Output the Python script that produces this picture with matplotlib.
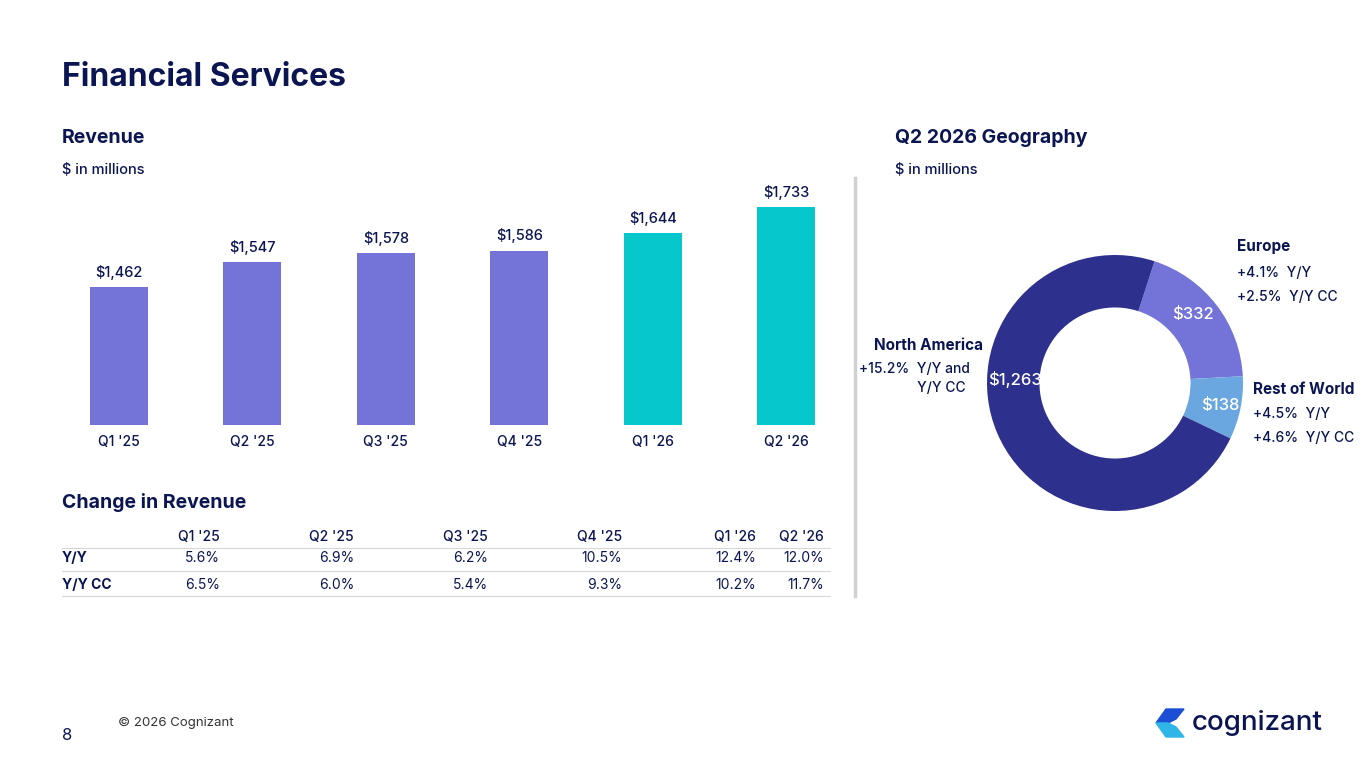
import matplotlib
matplotlib.use("Agg")
import matplotlib.pyplot as plt
import numpy as np
from matplotlib.patches import Polygon

quarters = ["Q1 '25", "Q2 '25", "Q3 '25", "Q4 '25", "Q1 '26", "Q2 '26"]
revenue = [1462, 1547, 1578, 1586, 1644, 1733]
yy = ["5.6%", "6.9%", "6.2%", "10.5%", "12.4%", "12.0%"]
yycc = ["6.5%", "6.0%", "5.4%", "9.3%", "10.2%", "11.7%"]
geo_labels = ["Europe", "Rest of World", "North America"]
geo_values = [332, 138, 1263]

W, H = 1365, 768
NAVY = "#0b1551"
plt.rcParams['font.family'] = ['Inter', 'DejaVu Sans']
fig = plt.figure(figsize=(W/100, H/100), dpi=100)

def P(x, y):
    return (x / W, 1 - y / H)

def txt(x, y, s, size=11, weight="normal", ha="left", va="center", color=NAVY):
    fig.text(*P(x, y), s, fontsize=size, fontweight=weight, ha=ha, va=va, color=color)

txt(62, 77, "Financial Services", 23, "bold")
txt(62, 138, "Revenue", 14, "bold")
txt(62, 170, "$ in millions", 10.5, "medium")
txt(895, 138, "Q2 2026 Geography", 14, "bold")
txt(895, 170, "$ in millions", 10.5, "medium")
txt(62, 502, "Change in Revenue", 14, "bold")

# bars
l, r, t, b = 52, 853, 180, 425
ax = fig.add_axes([l/W, 1-b/H, (r-l)/W, (b-t)/H])
cols = ["#7373d8"]*4 + ["#06c7cc"]*2
x = range(len(revenue))
ax.bar(x, revenue, width=0.435, color=cols)
ax.set_xlim(-0.5, 5.5)
ax.set_ylim(995, 1825)
ax.axis("off")
for i, v in enumerate(revenue):
    ax.text(i, v + 25, f"${v:,}", ha="center", va="bottom", fontsize=10.5, fontweight="medium", color=NAVY)
    ax.text(i, 960, quarters[i], ha="center", va="top", fontsize=10, fontweight="medium", color=NAVY)

# table
rights = [220, 354, 488, 622, 756, 824]
for i, q in enumerate(quarters):
    txt(rights[i], 537, q, 10, "medium", ha="right")
    txt(rights[i], 558, yy[i], 10, ha="right")
    txt(rights[i], 585, yycc[i], 10, ha="right")
txt(62, 558, "Y/Y", 10, "bold")
txt(62, 585, "Y/Y CC", 10, "bold")
for yl in [548, 571, 596]:
    fig.add_artist(plt.Line2D([62/W, 830/W], [1-yl/H]*2, color="#d6d6d6", lw=0.8))

# divider
fig.add_artist(plt.Line2D([855/W]*2, [1-178/H, 1-596/H], color="#d0d0d0", lw=2.5))

# donut
cx, cy, R = 1115, 383, 128
pax = fig.add_axes([(cx-R)/W, 1-(cy+R)/H, 2*R/W, 2*R/H])
gcols = ["#7373d8", "#6aa6e0", "#2e308e"]
pax.pie(geo_values, colors=gcols, startangle=72, counterclock=False, radius=1,
        wedgeprops=dict(width=0.41, linewidth=0))
pax.set_xlim(-1, 1); pax.set_ylim(-1, 1)
pax.set_aspect("equal")
for v, ang, rr in zip(geo_values, [41, -12, 178], [0.81, 0.84, 0.78]):
    a = np.radians(ang)
    pax.text(rr*np.cos(a), rr*np.sin(a), f"${v:,}", color="white", fontsize=12,
             fontweight="medium", ha="center", va="center")

txt(1237, 247, "Europe", 11, "bold")
txt(1237, 273, "+4.1%  Y/Y", 10, "medium")
txt(1237, 297, "+2.5%  Y/Y CC", 10, "medium")
txt(1253, 389, "Rest of World", 11, "bold")
txt(1253, 414, "+4.5%  Y/Y", 10, "medium")
txt(1253, 438, "+4.6%  Y/Y CC", 10, "medium")
txt(983, 346, "North America", 11, "bold", ha="right")
txt(970, 369, "+15.2%  Y/Y and", 10, "medium", ha="right")
txt(966, 388, "Y/Y CC", 10, "medium", ha="right")

# footer
txt(62, 736, "8", 12)
txt(118, 723, "© 2026 Cognizant", 9.5, color="#333333")
lx, ly = 1174, 723
fig.add_artist(Polygon([P(lx-18, ly), P(lx-8, ly-14), P(lx+10, ly-14), P(lx+2, ly-4), P(lx-6, ly)],
                       closed=True, color="#1a4fd6", transform=fig.transFigure))
fig.add_artist(Polygon([P(lx-18, ly), P(lx-6, ly), P(lx+2, ly+4), P(lx+10, ly+14), P(lx-8, ly+14)],
                       closed=True, color="#2fb5e8", transform=fig.transFigure))
txt(1192, 723, "cognizant", 20, "medium", color=NAVY)

fig.savefig("out.png", dpi=100, facecolor="white")
